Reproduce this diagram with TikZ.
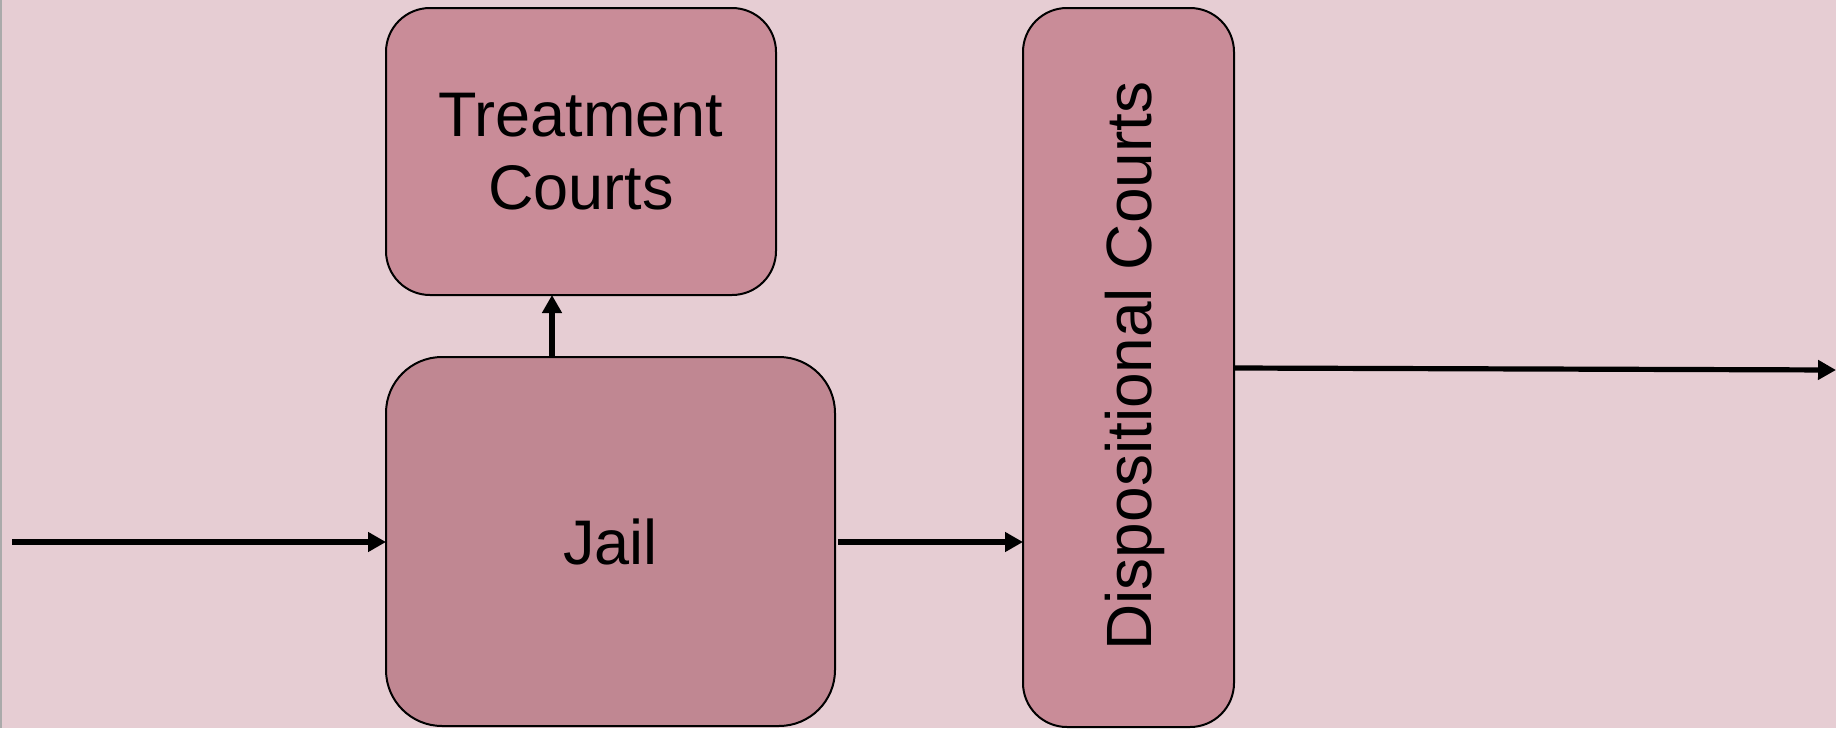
\documentclass[tikz,border=0pt]{standalone}
\usepackage{fontspec}
\setmainfont{Liberation Sans}
\usetikzlibrary{arrows.meta}
\definecolor{bgc}{HTML}{E6CDD3}
\definecolor{boxa}{HTML}{C98C98}
\definecolor{boxb}{HTML}{C08792}
\definecolor{edgec}{HTML}{AAAAAA}
\tikzset{
  stagebox/.style={draw=black, line width=1pt, rounded corners=#1, inner sep=0pt, outer sep=0pt},
  arr/.style={line width=2.6pt, -{Triangle[length=9pt,width=9.5pt]}},
  bigtext/.style={font=\fontsize{31.5}{36.5}\selectfont, text=black, align=center},
}
\begin{document}
\begin{tikzpicture}[x=0.5pt,y=-0.5pt]
\useasboundingbox (0,0) rectangle (1836,728);
\fill[bgc] (0,0) rectangle (1836,728);
\fill[edgec] (0,0) rectangle (1.5,728);
% boxes
\node[stagebox=22pt, fill=boxa, minimum width=195pt, minimum height=143.5pt, bigtext] (treat) at (581,151.5) {Treatment\\Courts};
\node[stagebox=28pt, fill=boxb, minimum width=224.5pt, minimum height=184.5pt, bigtext] (jail) at (610.5,541.5) {\raisebox{-4.5pt}{Jail}};
\node[stagebox=22pt, fill=boxa, minimum width=105.5pt, minimum height=359.5pt] (disp) at (1128.5,367.5) {};
\node[rotate=90, font=\fontsize{32}{33}\selectfont, inner sep=0pt] (disptxt) at (1135,366) {Dispositional Courts};
% connectors
\coordinate (start) at (12,542);
\coordinate (upx) at (552,0);
\coordinate (outy) at (0,368);
\coordinate (finish) at (1836,370);
\draw[arr] (start) -- (jail.west |- start);
\draw[arr] (jail.north -| upx) -- (treat.south -| upx);
\draw[arr] ([xshift=1.5pt]jail.east |- start) -- (disp.west |- start);
\draw[arr] (disp.east |- outy) -- (finish);
\end{tikzpicture}
\end{document}
